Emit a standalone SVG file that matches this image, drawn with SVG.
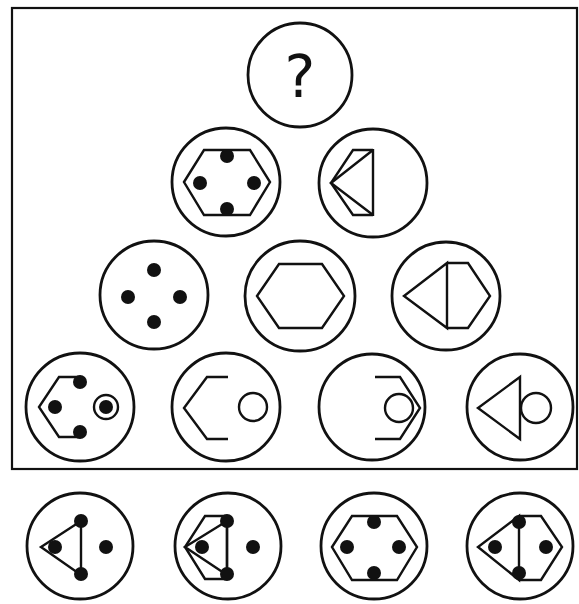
<svg xmlns="http://www.w3.org/2000/svg" width="579" height="604" viewBox="0 0 579 604">
<style>
.c{fill:none;stroke:#111;stroke-width:2.8}
.s{fill:none;stroke:#111;stroke-width:2.4;stroke-linejoin:miter}
.d{fill:#111}
.f{fill:none;stroke:#111;stroke-width:2.2}
</style>
<rect width="579" height="604" fill="#fff"/>
<rect class="f" x="12" y="8" width="565" height="461"/>
<g id="q">
<circle class="c" cx="300" cy="75" r="52"/>
<text x="300" y="97" font-family="DejaVu Sans, sans-serif" font-size="58" text-anchor="middle" fill="#111">?</text>
</g>
<g id="r2a">
<circle class="c" cx="226" cy="182" r="54"/>
<polygon class="s" points="184,182 204,150 250,150 270,182 250,215 204,215"/>
<circle class="d" cx="227" cy="156" r="7"/><circle class="d" cx="227" cy="209" r="7"/>
<circle class="d" cx="200" cy="183" r="7"/><circle class="d" cx="254" cy="183" r="7"/>
</g>
<g id="r2b">
<circle class="c" cx="373" cy="183" r="54"/>
<polyline class="s" points="373,150 353,150 331,183 353,215 373,215"/>
<polyline class="s" points="373,150 331,183 373,215"/>
<line class="s" x1="373" y1="149" x2="373" y2="216"/>
</g>
<g id="r3a">
<circle class="c" cx="154" cy="295" r="54"/>
<circle class="d" cx="154" cy="270" r="7"/><circle class="d" cx="154" cy="322" r="7"/>
<circle class="d" cx="128" cy="297" r="7"/><circle class="d" cx="180" cy="297" r="7"/>
</g>
<g id="r3b">
<circle class="c" cx="300" cy="296" r="55"/>
<polygon class="s" points="257,296 279,264 322,264 344,296 322,328 279,328"/>
</g>
<g id="r3c">
<circle class="c" cx="446" cy="296" r="54"/>
<polyline class="s" points="447,263 468,263 490,296 468,328 447,328"/>
<polygon class="s" points="447,263 404,296 447,328"/>
</g>
<g id="r4a">
<circle class="c" cx="80" cy="407" r="54"/>
<polyline class="s" points="81,377 59,377 39,407 59,437 81,437"/>
<circle class="d" cx="80" cy="382" r="7"/><circle class="d" cx="80" cy="432" r="7"/>
<circle class="d" cx="55" cy="407" r="7"/>
<circle class="s" cx="106" cy="407" r="12"/>
<circle class="d" cx="106" cy="407" r="7"/>
</g>
<g id="r4b">
<circle class="c" cx="226" cy="407" r="54"/>
<polyline class="s" points="228,377 207,377 184,408 207,439 228,439"/>
<circle class="s" cx="253" cy="407" r="14"/>
</g>
<g id="r4c">
<circle class="c" cx="372" cy="407" r="53"/>
<polyline class="s" points="375,377 400,377 420,408 400,439 375,439"/>
<circle class="s" cx="399" cy="408" r="14"/>
</g>
<g id="r4d">
<circle class="c" cx="520" cy="407" r="53"/>
<polygon class="s" points="520,377 478,408 520,439"/>
<circle class="s" cx="536" cy="408" r="15"/>
</g>
<g id="o1">
<circle class="c" cx="80" cy="546" r="53"/>
<polygon class="s" points="81,521 41,547 81,575"/>
<circle class="d" cx="81" cy="521" r="7"/><circle class="d" cx="81" cy="574" r="7"/>
<circle class="d" cx="55" cy="547" r="7"/><circle class="d" cx="106" cy="547" r="7"/>
</g>
<g id="o2">
<circle class="c" cx="228" cy="546" r="53"/>
<polyline class="s" points="227,516 205,516 185,547 205,579 227,579"/>
<polygon class="s" points="227,521 185,547 227,575"/>
<line class="s" x1="227" y1="516" x2="227" y2="579"/>
<circle class="d" cx="227" cy="521" r="7"/><circle class="d" cx="227" cy="574" r="7"/>
<circle class="d" cx="202" cy="547" r="7"/><circle class="d" cx="253" cy="547" r="7"/>
</g>
<g id="o3">
<circle class="c" cx="374" cy="546" r="53"/>
<polygon class="s" points="332,547 352,516 397,516 417,547 397,580 352,580"/>
<circle class="d" cx="374" cy="522" r="7"/><circle class="d" cx="374" cy="573" r="7"/>
<circle class="d" cx="347" cy="547" r="7"/><circle class="d" cx="399" cy="547" r="7"/>
</g>
<g id="o4">
<circle class="c" cx="520" cy="546" r="53"/>
<polyline class="s" points="519,516 541,516 562,547 541,580 519,580"/>
<polygon class="s" points="519,516 478,547 519,580"/>
<circle class="d" cx="519" cy="522" r="7"/><circle class="d" cx="519" cy="573" r="7"/>
<circle class="d" cx="495" cy="547" r="7"/><circle class="d" cx="546" cy="547" r="7"/>
</g>
</svg>
